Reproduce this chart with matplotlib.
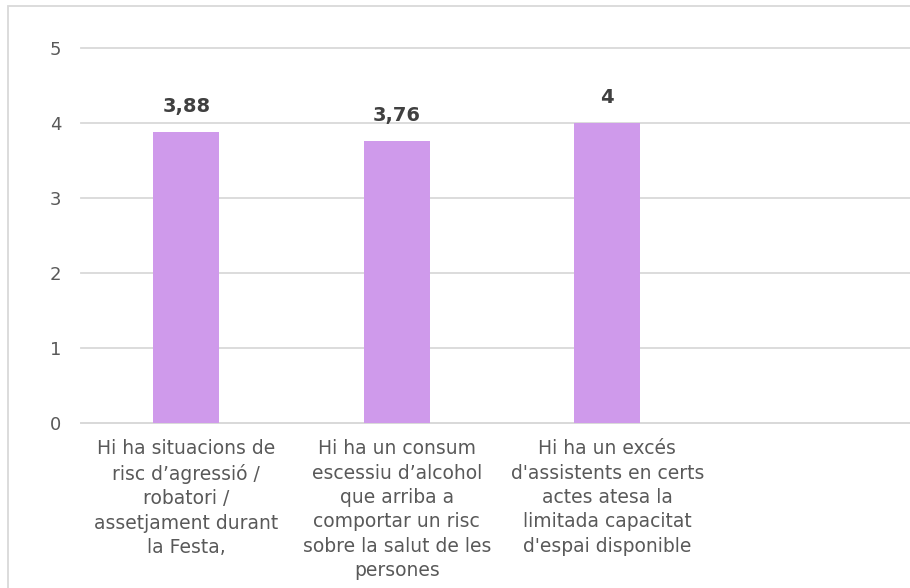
import matplotlib
matplotlib.use("Agg")
import matplotlib.pyplot as plt
from matplotlib.patches import Rectangle

categories = [
    "Hi ha situacions de\nrisc d’agressió /\nrobatori /\nassetjament durant\nla Festa,",
    "Hi ha un consum\nescessiu d’alcohol\nque arriba a\ncomportar un risc\nsobre la salut de les\npersones",
    "Hi ha un excés\nd'assistents en certs\nactes atesa la\nlimitada capacitat\nd'espai disponible",
    "",
]
values = [3.88, 3.76, 4.0, None]
value_labels = ["3,88", "3,76", "4", ""]
yticks = [0, 1, 2, 3, 4, 5]

plt.rcParams['font.family'] = ['DejaVu Sans']

fig = plt.figure(figsize=(9.10, 5.88), dpi=100)
fig.patch.set_facecolor('white')

W, H = 910, 588
left, right, bottom, top = 81, 923, 588 - 422.5, 588 - 48
ax = fig.add_axes([left / W, bottom / H, (right - left) / W, (top - bottom) / H])

bar_color = '#CF9AEB'
xs = list(range(len(categories)))
for x, v, lab in zip(xs, values, value_labels):
    if v is None:
        continue
    ax.bar(x, v, width=0.3135, color=bar_color, zorder=3)
    ax.annotate(lab, (x, v), xytext=(0, 14), textcoords='offset points',
                ha='center', va='baseline', fontsize=14, fontweight='bold',
                color='#404040')

ax.set_xlim(-0.5, len(categories) - 0.5)
ax.set_ylim(0, 5)
ax.set_yticks(yticks)
ax.set_yticklabels([str(t) for t in yticks], fontsize=13, color='#595959')
ax.set_xticks(xs)
ax.set_xticklabels(categories, fontsize=13.5, color='#595959', linespacing=1.36)
ax.tick_params(axis='both', length=0)
ax.tick_params(axis='y', pad=14)
ax.tick_params(axis='x', pad=12)

ax.grid(axis='y', color='#D9D9D9', linewidth=1.3, zorder=0)
ax.set_axisbelow(True)
for gl in ax.get_ygridlines():
    gl.set_clip_on(False)
for s in ['top', 'right', 'left']:
    ax.spines[s].set_visible(False)
ax.spines['bottom'].set_color('#D9D9D9')
ax.spines['bottom'].set_linewidth(1.3)

# outer chart border (cropped on right and bottom)
border = Rectangle((7.5 / W, -0.2), 1.3, 1.2 - 5.5 / H, transform=fig.transFigure,
                   fill=False, edgecolor='#D9D9D9', linewidth=1.3, clip_on=False)
fig.patches.append(border)

fig.savefig('out.png', dpi=100, facecolor='white')
